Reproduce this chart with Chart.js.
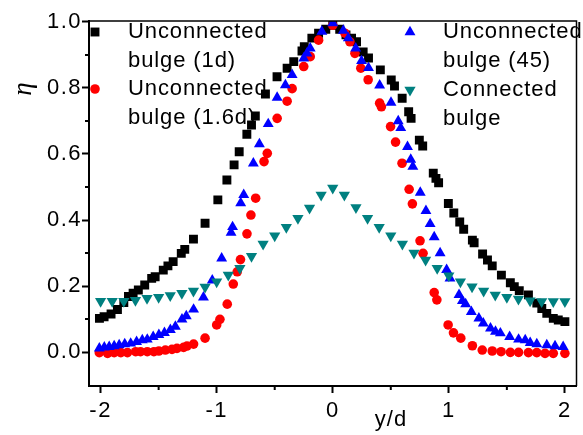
<!DOCTYPE html>
<html>
<head>
<meta charset="utf-8">
<script src="https://cdn.jsdelivr.net/npm/chart.js@4.4.0/dist/chart.umd.min.js"></script>
<style>
  html, body { margin: 0; padding: 0; background: #fff; }
  #wrap { width: 583px; height: 435px; }
</style>
</head>
<body>
<div id="wrap"><canvas id="myChart" width="583" height="435"></canvas></div>
<script>
// Unconnected bulge (1d) - black squares
const blk_x = [-2.01, -1.97, -1.91, -1.855, -1.8, -1.76, -1.72, -1.675, -1.62, -1.56, -1.53, -1.46, -1.42, -1.375, -1.305, -1.275, -1.2, -1.1, -0.99, -0.912, -0.85, -0.806, -0.74, -0.7, -0.667, -0.58, -0.48, -0.393, -0.336, -0.265, -0.245, -0.18, -0.122, -0.06, 0,
  0.06, 0.114, 0.162, 0.205, 0.262, 0.308, 0.41, 0.504, 0.532, 0.598, 0.654, 0.675, 0.746, 0.775, 0.866, 0.889, 0.912, 0.996, 1.043, 1.094, 1.128, 1.203, 1.218, 1.291, 1.333, 1.374, 1.453, 1.53, 1.564, 1.607, 1.686, 1.758, 1.801, 1.844, 1.9, 1.943, 2.0];
const blk_y = [0.102, 0.107, 0.115, 0.129, 0.15, 0.168, 0.178, 0.188, 0.203, 0.223, 0.228, 0.248, 0.261, 0.274, 0.299, 0.311, 0.342, 0.39, 0.461, 0.521, 0.567, 0.607, 0.66, 0.688, 0.715, 0.782, 0.834, 0.86, 0.88, 0.912, 0.925, 0.951, 0.966, 0.978, 0.99,
  0.978, 0.961, 0.951, 0.94, 0.909, 0.891, 0.855, 0.824, 0.806, 0.769, 0.728, 0.708, 0.642, 0.624, 0.542, 0.526, 0.513, 0.45, 0.421, 0.394, 0.372, 0.339, 0.331, 0.297, 0.279, 0.261, 0.233, 0.21, 0.198, 0.186, 0.173, 0.148, 0.132, 0.117, 0.102, 0.097, 0.092];

// Unconnected bulge (1.6d) - red circles
const red_x = [-2.011, -1.94, -1.883, -1.826, -1.769, -1.698, -1.656, -1.598, -1.541, -1.498, -1.442, -1.385, -1.342, -1.285, -1.256, -1.199, -1.1, -1.0, -0.972, -0.909, -0.857, -0.823, -0.795, -0.739, -0.705, -0.664, -0.592, -0.564, -0.479, -0.393, -0.35, -0.25, -0.194, -0.122, 0,
  0.105, 0.148, 0.191, 0.242, 0.305, 0.404, 0.419, 0.498, 0.541, 0.597, 0.658, 0.686, 0.752, 0.778, 0.874, 0.897, 0.994, 1.04, 1.103, 1.203, 1.288, 1.374, 1.45, 1.53, 1.601, 1.686, 1.758, 1.829, 1.9, 2.0];
const red_y = [-0.002, -0.004, -0.002, -0.002, -0.002, 0.001, 0.001, 0.001, 0.001, 0.003, 0.006, 0.008, 0.011, 0.014, 0.018, 0.024, 0.042, 0.082, 0.099, 0.145, 0.206, 0.243, 0.28, 0.358, 0.415, 0.466, 0.577, 0.602, 0.708, 0.76, 0.798, 0.865, 0.895, 0.945, 0.99,
  0.966, 0.94, 0.905, 0.86, 0.825, 0.754, 0.743, 0.683, 0.636, 0.572, 0.493, 0.449, 0.337, 0.299, 0.18, 0.158, 0.082, 0.058, 0.042, 0.019, 0.006, 0.003, 0.001, -0.001, -0.001, -0.002, -0.002, -0.004, -0.004, -0.004];

// Unconnected bulge (45) - blue triangles
const blu_x = [-2.011, -1.968, -1.926, -1.883, -1.84, -1.792, -1.741, -1.69, -1.641, -1.598, -1.547, -1.498, -1.45, -1.399, -1.356, -1.299, -1.262, -1.199, -1.114, -1.038, -0.957, -0.876, -0.863, -0.793, -0.767, -0.684, -0.632, -0.556, -0.479, -0.408, -0.35, -0.25, -0.222, -0.194, -0.094, 0,
  0.091, 0.134, 0.198, 0.248, 0.308, 0.404, 0.502, 0.564, 0.586, 0.644, 0.672, 0.69, 0.754, 0.803, 0.839, 0.874, 0.925, 0.981, 1.01, 1.088, 1.117, 1.145, 1.194, 1.259, 1.297, 1.359, 1.402, 1.444, 1.524, 1.601, 1.658, 1.701, 1.758, 1.844, 1.915, 1.985];
const blu_y = [0.011, 0.014, 0.016, 0.018, 0.021, 0.024, 0.026, 0.031, 0.036, 0.038, 0.046, 0.052, 0.058, 0.067, 0.077, 0.099, 0.109, 0.129, 0.166, 0.217, 0.284, 0.362, 0.379, 0.451, 0.476, 0.572, 0.63, 0.691, 0.771, 0.809, 0.84, 0.89, 0.905, 0.92, 0.971, 0.997,
  0.974, 0.951, 0.92, 0.882, 0.861, 0.808, 0.756, 0.7, 0.679, 0.622, 0.583, 0.562, 0.483, 0.428, 0.388, 0.348, 0.3, 0.249, 0.223, 0.173, 0.155, 0.145, 0.122, 0.102, 0.087, 0.072, 0.062, 0.057, 0.046, 0.038, 0.036, 0.028, 0.024, 0.021, 0.018, 0.016];

// Connected bulge - teal inverted triangles
const tea_x = [-2.0, -1.9, -1.8, -1.7, -1.6, -1.5, -1.4, -1.3, -1.2, -1.1, -1.0, -0.9, -0.8, -0.7, -0.6, -0.5, -0.4, -0.3, -0.2, -0.1, 0.0,
  0.1, 0.2, 0.3, 0.4, 0.5, 0.6, 0.7, 0.8, 0.9, 1.0, 1.1, 1.2, 1.3, 1.4, 1.5, 1.6, 1.7, 1.8, 1.9, 2.0];
const tea_y = [0.154, 0.154, 0.154, 0.157, 0.163, 0.166, 0.171, 0.178, 0.185, 0.197, 0.213, 0.233, 0.254, 0.29, 0.327, 0.352, 0.378, 0.405, 0.436, 0.476, 0.497,
  0.476, 0.438, 0.405, 0.378, 0.352, 0.327, 0.3, 0.279, 0.254, 0.231, 0.213, 0.198, 0.185, 0.173, 0.166, 0.161, 0.155, 0.153, 0.153, 0.153];

const series_labels = [['Unconnected', 'bulge (1d)'], ['Unconnected', 'bulge (1.6d)'], ['Unconnected', 'bulge (45)'], ['Connected', 'bulge']];
const x_ticks = [-2, -1, 0, 1, 2];
const x_minor = [-1.5, -0.5, 0.5, 1.5];
const y_ticks = [0.0, 0.2, 0.4, 0.6, 0.8, 1.0];
const y_minor = [0.1, 0.3, 0.5, 0.7, 0.9];

function to_points(xs, ys) {
    return xs.map((x, i) => ({ x: x, y: ys[i] }));
}

const font_main = 'Liberation Sans, Arial, sans-serif';

// where each legend entry sits (marker x, first line y, text x)
const legend_pos = [
    { mx: 95, my: 32, tx: 128 },
    { mx: 95, my: 89, tx: 128 },
    { mx: 410, my: 32, tx: 443 },
    { mx: 410, my: 90, tx: 443 }
];

const extras = {
    id: 'extras',
    beforeDraw(chart) {
        chart.ctx.letterSpacing = '1.5px';
    },
    afterDraw(chart) {
        const ctx = chart.ctx;
        const area = chart.chartArea;
        const xs = chart.scales.x;
        const ys = chart.scales.y;
        ctx.save();
        ctx.letterSpacing = '0px';
        ctx.strokeStyle = '#000';
        // top and right frame
        ctx.lineWidth = 1.5;
        ctx.beginPath();
        ctx.moveTo(area.left, area.top);
        ctx.lineTo(area.right, area.top);
        ctx.lineTo(area.right, area.bottom);
        ctx.stroke();
        // minor ticks
        ctx.lineWidth = 2;
        ctx.beginPath();
        x_minor.forEach(v => {
            let px = xs.getPixelForValue(v);
            ctx.moveTo(px, area.bottom);
            ctx.lineTo(px, area.bottom + 4);
        });
        y_minor.forEach(v => {
            let py = ys.getPixelForValue(v);
            ctx.moveTo(area.left, py);
            ctx.lineTo(area.left - 4, py);
        });
        ctx.stroke();

        // axis titles
        ctx.fillStyle = '#000';
        ctx.textAlign = 'center';
        ctx.textBaseline = 'middle';
        ctx.font = '22px ' + font_main;
        ctx.letterSpacing = '1px';
        ctx.fillText('y/d', 391, 420);
        ctx.save();
        ctx.translate(24, 89);
        ctx.rotate(-Math.PI / 2);
        ctx.letterSpacing = '0px';
        ctx.font = 'italic 27px Liberation Serif, Times New Roman, serif';
        ctx.fillText('\u03b7', 0, 0);
        ctx.restore();

        // legend
        ctx.textAlign = 'left';
        ctx.font = '22px ' + font_main;
        ctx.letterSpacing = '0.9px';
        chart.data.datasets.forEach((ds, i) => {
            const p = legend_pos[i];
            ctx.fillStyle = ds.backgroundColor;
            ctx.strokeStyle = ds.borderColor;
            Chart.helpers.drawPoint(ctx, {
                pointStyle: ds.pointStyle,
                radius: ds.pointRadius,
                rotation: ds.pointRotation || 0,
                borderWidth: 0
            }, p.mx, p.my);
            ctx.fillStyle = '#000';
            series_labels[i].forEach((line, j) => {
                ctx.fillText(line, p.tx, p.my + j * 29);
            });
        });
        ctx.restore();
    }
};

const ctx = document.getElementById('myChart');
const chart = new Chart(ctx, {
    type: 'scatter',
    data: {
        datasets: [
            {
                label: series_labels[0].join(' '),
                data: to_points(blk_x, blk_y),
                pointStyle: 'rect',
                pointRadius: 6.3,
                borderWidth: 0,
                backgroundColor: '#000000',
                borderColor: '#000000',
                order: 4
            },
            {
                label: series_labels[1].join(' '),
                data: to_points(red_x, red_y),
                pointStyle: 'circle',
                pointRadius: 4.8,
                borderWidth: 0,
                backgroundColor: '#ff0000',
                borderColor: '#ff0000',
                order: 3
            },
            {
                label: series_labels[2].join(' '),
                data: to_points(blu_x, blu_y),
                pointStyle: 'triangle',
                pointRadius: 6.3,
                borderWidth: 0,
                backgroundColor: '#0000ff',
                borderColor: '#0000ff',
                order: 2
            },
            {
                label: series_labels[3].join(' '),
                data: to_points(tea_x, tea_y),
                pointStyle: 'triangle',
                pointRotation: 180,
                pointRadius: 6.5,
                borderWidth: 0,
                backgroundColor: '#008080',
                borderColor: '#008080',
                order: 1
            }
        ]
    },
    options: {
        responsive: false,
        animation: false,
        events: [],
        layout: { padding: { top: 21, right: 2, left: 0, bottom: 0 } },
        scales: {
            x: {
                type: 'linear',
                min: -2.1,
                max: 2.1,
                afterBuildTicks: s => { s.ticks = x_ticks.map(v => ({ value: v })); },
                afterFit: s => { s.height = 49; },
                ticks: {
                    color: '#000',
                    padding: 5,
                    font: { family: font_main, size: 22 },
                    callback: v => String(v)
                },
                grid: { drawOnChartArea: false, drawTicks: true, tickLength: 7, tickWidth: 2, tickColor: '#000' },
                border: { display: true, color: '#000', width: 2 }
            },
            y: {
                type: 'linear',
                min: -0.103,
                max: 1.003,
                afterBuildTicks: s => { s.ticks = y_ticks.map(v => ({ value: v })); },
                afterFit: s => { s.width = 89; },
                ticks: {
                    color: '#000',
                    padding: 0,
                    font: { family: font_main, size: 22 },
                    callback: v => v.toFixed(1)
                },
                grid: { drawOnChartArea: false, drawTicks: true, tickLength: 7, tickWidth: 2, tickColor: '#000' },
                border: { display: true, color: '#000', width: 2 }
            }
        },
        plugins: {
            legend: { display: false },
            tooltip: { enabled: false }
        }
    },
    plugins: [extras]
});
</script>
</body>
</html>
